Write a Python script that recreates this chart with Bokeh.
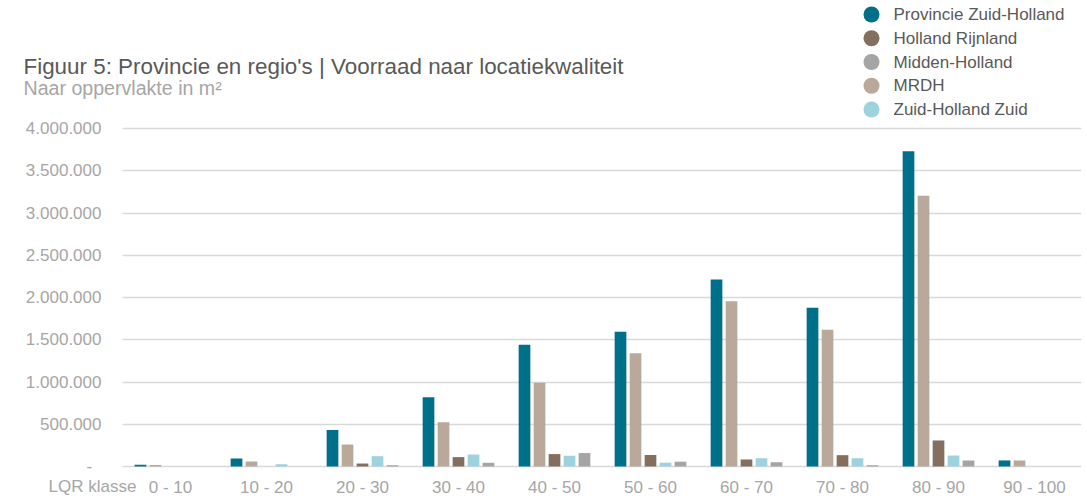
from bokeh.plotting import figure
from bokeh.models import (ColumnDataSource, Range1d, FixedTicker, Label, BoxAnnotation)
from bokeh.embed import file_html
from bokeh.resources import INLINE
from bokeh.transform import dodge

# ---------------- data ----------------
categories = ["0 - 10", "10 - 20", "20 - 30", "30 - 40", "40 - 50",
              "50 - 60", "60 - 70", "70 - 80", "80 - 90", "90 - 100"]
provincie_zuid_holland = [22000, 95000, 432000, 819000, 1440000, 1595000, 2213000, 1878000, 3731000, 72000]
mrdh = [18000, 59000, 260000, 524000, 991000, 1339000, 1956000, 1618000, 3203000, 72000]
holland_rijnland = [0, 0, 35000, 111000, 147000, 136000, 83000, 134000, 308000, 0]
zuid_holland_zuid = [0, 27000, 122000, 142000, 127000, 45000, 98000, 98000, 130000, 0]
midden_holland = [0, 0, 15000, 44000, 159000, 57000, 51000, 15000, 71000, 0]
y_ticks = [0, 500000, 1000000, 1500000, 2000000, 2500000, 3000000, 3500000, 4000000]

title_text = "Figuur 5: Provincie en regio's | Voorraad naar locatiekwaliteit"
subtitle_text = "Naar oppervlakte in m\u00b2"
x_title = "LQR klasse"

# series: (key, label, colour) in bar order within a group
series = [
    ("pzh", "Provincie Zuid-Holland", "#00708A"),
    ("mrdh", "MRDH", "#BAA99A"),
    ("hr", "Holland Rijnland", "#846F5E"),
    ("zhz", "Zuid-Holland Zuid", "#9DD3DE"),
    ("mh", "Midden-Holland", "#A5A5A5"),
]
legend_order = ["pzh", "hr", "mh", "mrdh", "zhz"]

FONT = "Liberation Sans"
GREY_TXT = "#A6A6A6"
DARK_TXT = "#595959"

# layout (pixels)
PITCH = 96.0          # px per category
PX_PER_VAL = 84.5e-6  # px per m2
W, H = 1086, 497
AXIS_X = 122          # x pixel of the value axis
BASE_Y = 466          # y pixel of zero line
RIGHT = 1081
LEG_X, LEG_Y0, LEG_DY = 871, 14, 23.75   # legend marker column / first row / row pitch


def ty(y_px, size):
    """screen-unit y (from bottom) that puts an alphabetic baseline at page pixel y_px"""
    return H - y_px + 0.33 * size


source = ColumnDataSource(dict(
    x=[i + 0.5 for i in range(len(categories))],
    pzh=provincie_zuid_holland,
    mrdh=mrdh,
    hr=holland_rijnland,
    zhz=zuid_holland_zuid,
    mh=midden_holland,
))

p = figure(width=W, height=H, output_backend="svg", toolbar_location=None,
           x_range=Range1d(-AXIS_X / PITCH, (RIGHT - AXIS_X) / PITCH),
           y_range=Range1d(-(H - BASE_Y) / PX_PER_VAL, BASE_Y / PX_PER_VAL),
           min_border_left=0, min_border_right=W - RIGHT, min_border_top=0, min_border_bottom=0)
p.outline_line_color = None
p.background_fill_color = "white"
p.border_fill_color = "white"
# pixel space for the legend
p.extra_x_ranges = {"px": Range1d(0, RIGHT)}
p.extra_y_ranges = {"px": Range1d(H, 0)}

offsets = [-0.3125, -0.15625, 0.0, 0.15625, 0.3125]
for (key, label, color), off in zip(series, offsets):
    p.vbar(x=dodge("x", off, range=p.x_range), top=key, width=0.122, bottom=0,
           source=source, fill_color=color, line_color=None)

# legend (markers in pixel space + labels)
colors = {k: c for k, _, c in series}
labels = {k: l for k, l, _ in series}
p.scatter(x=[LEG_X] * len(legend_order),
          y=[LEG_Y0 + i * LEG_DY for i in range(len(legend_order))],
          marker="circle", size=16, line_color=None,
          fill_color=[colors[k] for k in legend_order],
          x_range_name="px", y_range_name="px")
for i, k in enumerate(legend_order):
    p.add_layout(Label(x=LEG_X + 22, y=H - (LEG_Y0 + i * LEG_DY), x_units="screen", y_units="screen",
                       text=labels[k], text_font=FONT, text_font_size="17px",
                       text_color=DARK_TXT, text_align="left", text_baseline="middle"))

# grid
p.xgrid.grid_line_color = None
p.ygrid.ticker = FixedTicker(ticks=y_ticks)
p.ygrid.grid_line_color = "#D9D9D9"
p.ygrid.grid_line_width = 1.5
# blank area left of the value axis (grid lines start at the axis)
p.add_layout(BoxAnnotation(right=0, fill_color="white", fill_alpha=1.0,
                           line_color=None, level="underlay"))

# axes, pinned inside the frame
p.yaxis.fixed_location = 0
p.yaxis.ticker = FixedTicker(ticks=y_ticks)
p.yaxis.major_label_overrides = {
    t: ("-\u00a0\u00a0" if t == 0 else f"{t:,}".replace(",", ".")) for t in y_ticks
}
p.yaxis.axis_line_color = None
p.yaxis.major_tick_line_color = None
p.yaxis.minor_tick_line_color = None
p.yaxis.major_tick_out = 0
p.yaxis.major_label_standoff = 21
p.yaxis.major_label_text_font = FONT
p.yaxis.major_label_text_font_size = "17px"
p.yaxis.major_label_text_color = GREY_TXT

p.xaxis.fixed_location = 0
p.xaxis.ticker = FixedTicker(ticks=[i + 0.5 for i in range(len(categories))])
p.xaxis.major_label_overrides = {i + 0.5: c for i, c in enumerate(categories)}
p.xaxis.axis_line_color = None
p.xaxis.major_tick_line_color = None
p.xaxis.minor_tick_line_color = None
p.xaxis.major_tick_out = 0
p.xaxis.major_label_standoff = 11
p.xaxis.major_label_text_font = FONT
p.xaxis.major_label_text_font_size = "17px"
p.xaxis.major_label_text_color = GREY_TXT

# titles (screen units from bottom-left of the plot area)
p.add_layout(Label(x=23, y=ty(73, 22.4), x_units="screen", y_units="screen", text=title_text,
                   text_font=FONT, text_font_size="22.4px", text_color=DARK_TXT,
                   text_align="left", text_baseline="alphabetic"))
p.add_layout(Label(x=23, y=ty(93.5, 19.6), x_units="screen", y_units="screen", text=subtitle_text,
                   text_font=FONT, text_font_size="19.6px", text_color=GREY_TXT,
                   text_align="left", text_baseline="alphabetic"))
p.add_layout(Label(x=48, y=ty(492, 17), x_units="screen", y_units="screen", text=x_title,
                   text_font=FONT, text_font_size="17px", text_color=GREY_TXT,
                   text_align="left", text_baseline="alphabetic"))

open("out.html", "w").write(file_html(p, INLINE))
